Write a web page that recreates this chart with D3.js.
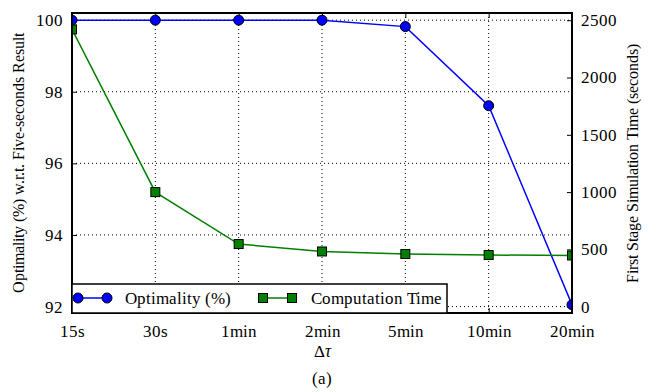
<!DOCTYPE html>
<html>
<head>
<meta charset="utf-8">
<script src="https://cdn.jsdelivr.net/npm/d3@7"></script>
<style>
  @font-face { font-family: "PaperSerif"; src: local("Liberation Serif"), local("LiberationSerif"), local("Liberation Serif Regular"), local("LiberationSerif-Regular"); font-style: normal; }
  @font-face { font-family: "PaperSerif"; src: local("Liberation Serif Italic"), local("LiberationSerif-Italic"); font-style: italic; }
  body { margin: 0; background: #fff; }
</style>
</head>
<body>
<svg id="fig" width="649" height="392"></svg>
<script>
const categories = ["15s", "30s", "1min", "2min", "5min", "10min", "20min"];
const optimality = [100, 100, 100, 100, 99.82, 97.61, 92.05];
const compTime = [2420, 1000, 547, 482, 460, 451, 447];
const leftTicks = [92, 94, 96, 98, 100];
const rightTicks = [0, 500, 1000, 1500, 2000, 2500];

const width = 649, height = 392;
const margin = { top: 13, right: 77, bottom: 79, left: 72 };
const iw = width - margin.left - margin.right;
const ih = height - margin.top - margin.bottom;
const FONT = '"PaperSerif", "Liberation Serif", "Times New Roman", Tinos, monospace';

const svg = d3.select("#fig");
const g = svg.append("g").attr("transform", `translate(${margin.left},${margin.top})`);

function label(sel, size) {
  return sel.attr("font-family", FONT).style("font-family", FONT)
    .style("font-size", size + "px").attr("fill", "#000");
}

const x = d3.scalePoint().domain(categories).range([0, iw]);
const yL = d3.scaleLinear().domain([91.82, 100.2]).range([ih, 0]);
const yR = d3.scaleLinear().domain([-55, 2563]).range([ih, 0]);

svg.append("defs").append("clipPath").attr("id", "plotclip")
  .append("rect").attr("width", iw).attr("height", ih);

// grid
g.selectAll(".vgrid").data(categories).enter().append("line")
  .attr("x1", d => x(d)).attr("x2", d => x(d))
  .attr("y1", 0).attr("y2", ih)
  .attr("stroke", "#000").attr("stroke-width", 1).attr("stroke-dasharray", "1,3");
g.selectAll(".hgrid").data(leftTicks).enter().append("line")
  .attr("x1", 0).attr("x2", iw)
  .attr("y1", d => yL(d)).attr("y2", d => yL(d))
  .attr("stroke", "#000").attr("stroke-width", 1).attr("stroke-dasharray", "1,3");

// axes (ticks pointing inward)
const xAxis = g.append("g").attr("transform", `translate(0,${ih})`)
  .call(d3.axisBottom(x).tickSize(-5).tickPadding(12));
const xTop = g.append("g")
  .call(d3.axisTop(x).tickSize(-5).tickFormat(""));
const lAxis = g.append("g")
  .call(d3.axisLeft(yL).tickValues(leftTicks).tickSize(-5).tickPadding(9));
const rAxis = g.append("g").attr("transform", `translate(${iw},0)`)
  .call(d3.axisRight(yR).tickValues(rightTicks).tickFormat(d3.format("d")).tickSize(-5).tickPadding(9));

[xAxis, xTop, lAxis, rAxis].forEach(a => {
  a.attr("font-family", FONT).attr("font-size", null);
  a.select(".domain").remove();
  a.selectAll(".tick line").attr("stroke", "#000").attr("stroke-width", 1);
  label(a.selectAll("text"), 17);
});

// series
const plot = g.append("g").attr("clip-path", "url(#plotclip)");

const optLine = d3.line().x((d, i) => x(categories[i])).y(d => yL(d));
const timeLine = d3.line().x((d, i) => x(categories[i])).y(d => yR(d));

plot.append("path").datum(optimality).attr("d", optLine)
  .attr("fill", "none").attr("stroke", "#0000ff").attr("stroke-width", 1.5);
plot.append("path").datum(compTime).attr("d", timeLine)
  .attr("fill", "none").attr("stroke", "#008000").attr("stroke-width", 1.5);

plot.selectAll(".sq").data(compTime).enter().append("rect")
  .attr("x", (d, i) => x(categories[i]) - 4.5)
  .attr("y", d => yR(d) - 4.5)
  .attr("width", 9).attr("height", 9)
  .attr("fill", "#008000").attr("stroke", "#000").attr("stroke-width", 1);
plot.selectAll(".dot").data(optimality).enter().append("circle")
  .attr("cx", (d, i) => x(categories[i]))
  .attr("cy", d => yL(d))
  .attr("r", 5)
  .attr("fill", "#0000ff").attr("stroke", "#000").attr("stroke-width", 1);

// frame
g.append("rect").attr("width", iw).attr("height", ih)
  .attr("fill", "none").attr("stroke", "#000").attr("stroke-width", 2);

// legend
const leg = g.append("g").attr("transform", `translate(0,${ih - 29})`);
leg.append("rect").attr("width", 375).attr("height", 29)
  .attr("fill", "#fff").attr("stroke", "#000").attr("stroke-width", 1.5);
const legItems = [
  { label: "Optimality (%)", color: "#0000ff", shape: "circle", x0: 6, tx: 53 },
  { label: "Computation Time", color: "#008000", shape: "square", x0: 191, tx: 239 }
];
legItems.forEach(it => {
  const cy = 14;
  leg.append("line").attr("x1", it.x0).attr("x2", it.x0 + 29)
    .attr("y1", cy).attr("y2", cy).attr("stroke", it.color).attr("stroke-width", 1.5);
  [it.x0, it.x0 + 29].forEach(px => {
    if (it.shape === "circle") {
      leg.append("circle").attr("cx", px).attr("cy", cy).attr("r", 5)
        .attr("fill", it.color).attr("stroke", "#000");
    } else {
      leg.append("rect").attr("x", px - 4.5).attr("y", cy - 4.5).attr("width", 9).attr("height", 9)
        .attr("fill", it.color).attr("stroke", "#000");
    }
  });
  label(leg.append("text"), 17).attr("x", it.tx).attr("y", cy + 6).text(it.label);
});

// axis labels
const xLab = label(svg.append("text"), 17).attr("x", margin.left + iw / 2).attr("y", 357)
  .attr("text-anchor", "middle");
xLab.append("tspan").text("Δ");
xLab.append("tspan").style("font-style", "italic").text("τ");
label(svg.append("text"), 17).attr("x", margin.left + iw / 2).attr("y", 384)
  .attr("text-anchor", "middle").text("(a)");
label(svg.append("text"), 16)
  .attr("transform", `translate(24,${margin.top + ih / 2}) rotate(-90)`)
  .attr("text-anchor", "middle")
  .text("Optimality (%) w.r.t. Five-seconds Result");
label(svg.append("text"), 16)
  .attr("transform", `translate(638,${margin.top + ih / 2}) rotate(-90)`)
  .attr("text-anchor", "middle")
  .text("First Stage Simulation Time (seconds)");
</script>
</body>
</html>
